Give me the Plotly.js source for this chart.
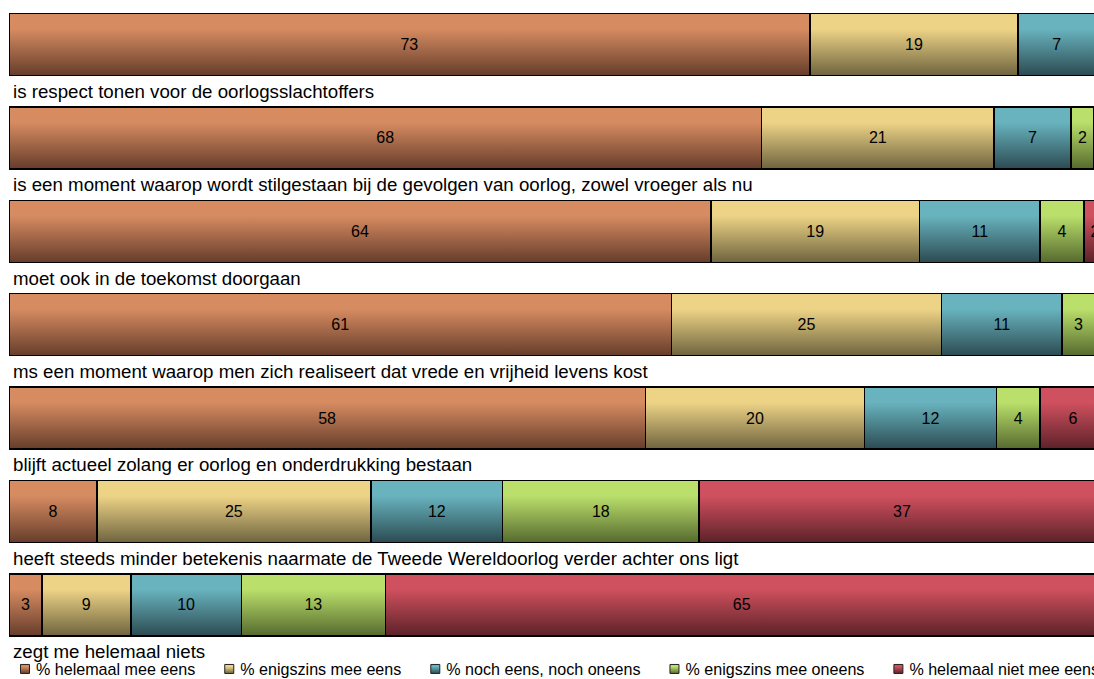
<!DOCTYPE html>
<html><head><meta charset="utf-8">
<script src="https://cdn.plot.ly/plotly-3.0.1.min.js"></script>
<style>
html,body{margin:0;padding:0;overflow:hidden;background:#fff;width:1094px;height:679px}
#chart{width:1220px;height:700px;margin-left:-20px}
</style>
</head><body><div id="chart"></div>
<script>
// Statements (one stacked bar each, top to bottom)
const statements = [
  "is respect tonen voor de oorlogsslachtoffers",
  "is een moment waarop wordt stilgestaan bij de gevolgen van oorlog, zowel vroeger als nu",
  "moet ook in de toekomst doorgaan",
  "ms een moment waarop men zich realiseert dat vrede en vrijheid levens kost",
  "blijft actueel zolang er oorlog en onderdrukking bestaan",
  "heeft steeds minder betekenis naarmate de Tweede Wereldoorlog verder achter ons ligt",
  "zegt me helemaal niets"
];
const seriesNames = [
  "% helemaal mee eens",
  "% enigszins mee eens",
  "% noch eens, noch oneens",
  "% enigszins mee oneens",
  "% helemaal niet mee eens"
];
// Values (percent)
const helemaalMeeEens     = [73.0, 68.6, 64.0, 60.4, 58.0,  8.0,  3.0];
const enigszinsMeeEens    = [19.0, 21.2, 19.0, 24.6, 20.0, 25.0,  8.1];
const nochEensNochOneens  = [ 7.0,  7.0, 11.0, 11.0, 12.0, 12.0, 10.1];
const enigszinsMeeOneens  = [ 1.0,  2.1,  4.0,  3.0,  4.0, 17.9, 13.1];
const helemaalNietMeeEens = [ 0.0,  1.1,  2.0,  1.0,  6.0, 37.0, 65.0];
// Printed labels inside the segments (segments past the right edge show none)
const lblHelemaalMeeEens     = ["73","68","64","61","58","8","3"];
const lblEnigszinsMeeEens    = ["19","21","19","25","20","25","9"];
const lblNochEensNochOneens  = ["7","7","11","11","12","12","10"];
const lblEnigszinsMeeOneens  = ["","2","4","3","4","18","13"];
const lblHelemaalNietMeeEens = ["","","2","","6","37","65"];

const seriesValues = [helemaalMeeEens, enigszinsMeeEens, nochEensNochOneens, enigszinsMeeOneens, helemaalNietMeeEens];
const seriesLabels = [lblHelemaalMeeEens, lblEnigszinsMeeEens, lblNochEensNochOneens, lblEnigszinsMeeOneens, lblHelemaalNietMeeEens];

const baseColors = ["#B6714C", "#C9B26A", "#4E8C96", "#97B552", "#A83E49"];
const gradColors = [
  ["#D68B61", "#663D2B"],
  ["#EDD386", "#6F643F"],
  ["#68B3BE", "#2C4B52"],
  ["#BADF6B", "#566A2E"],
  ["#CF505E", "#5C2229"]
];

const FONT = "Liberation Sans, Arial, sans-serif";
const rows = statements.map((s, i) => i);

const traces = seriesNames.map((name, k) => ({
  type: "bar",
  orientation: "h",
  name: name,
  x: seriesValues[k],
  y: rows,
  width: 0.663,
  text: seriesLabels[k],
  textposition: "inside",
  insidetextanchor: "middle",
  constraintext: "none",
  textangle: 0,
  textfont: {family: FONT, size: 16, color: "#000"},
  marker: {color: baseColors[k], line: {color: "#000", width: 1.5}},
  hoverinfo: "skip"
}));

const annotations = statements.map((s, i) => ({
  text: s,
  xref: "paper", x: 0, xanchor: "left", xshift: 2,
  yref: "y", y: i + 0.5, yanchor: "middle",
  showarrow: false,
  font: {family: FONT, size: 18.7, color: "#000"}
}));

// figure is shifted 20px left by CSS; plot area starts at viewport x=9
const FIG_W = 1220, FIG_H = 700;
const ML = 29, MR = 9, MB = 48;
const plotW = FIG_W - ML - MR;
const xMax = 100 * plotW / 1097;       // 100% ends 1097px right of the bar start
const plotH = FIG_H - MB;
const rowPx = 93.4;
const yTop = -44.5 / rowPx;
const yBottom = yTop + plotH / rowPx;

const layout = {
  width: FIG_W, height: FIG_H,
  margin: {l: ML, r: MR, t: 0, b: MB},
  paper_bgcolor: "#fff", plot_bgcolor: "#fff",
  barmode: "stack",
  font: {family: FONT, color: "#000"},
  xaxis: {range: [0, xMax], visible: false, fixedrange: true},
  yaxis: {range: [yBottom, yTop], visible: false, fixedrange: true},
  showlegend: true,
  legend: {
    orientation: "h",
    xref: "paper", yref: "paper",
    x: -13 / plotW, xanchor: "left",
    y: 0, yanchor: "top",
    bgcolor: "rgba(0,0,0,0)",
    font: {family: FONT, size: 16.1, color: "#000"},
    traceorder: "normal"
  },
  annotations: annotations
};

Plotly.newPlot("chart", traces, layout, {staticPlot: true, displayModeBar: false}).then(gd => {
  const NS = "http://www.w3.org/2000/svg";
  const svg = gd.querySelector(".main-svg");
  let defs = svg.querySelector("defs");
  if (!defs) { defs = document.createElementNS(NS, "defs"); svg.insertBefore(defs, svg.firstChild); }
  gradColors.forEach((c, i) => {
    const lg = document.createElementNS(NS, "linearGradient");
    lg.setAttribute("id", "grad" + i);
    lg.setAttribute("x1", "0"); lg.setAttribute("y1", "0");
    lg.setAttribute("x2", "0"); lg.setAttribute("y2", "1");
    [[0, c[0]], [0.25, c[0]], [1, c[1]]].forEach(([o, col]) => {
      const st = document.createElementNS(NS, "stop");
      st.setAttribute("offset", o);
      st.setAttribute("stop-color", col);
      lg.appendChild(st);
    });
    defs.appendChild(lg);
  });
  gd.querySelectorAll(".barlayer .trace").forEach((g, n) => {
    let idx = n;
    try { idx = g.__data__[0].trace.index; } catch (e) {}
    g.querySelectorAll("path").forEach(p => { p.style.fill = "url(#grad" + idx + ")"; });
  });
  gd.querySelectorAll(".legend .traces").forEach((g, n) => {
    let idx = n;
    try { idx = g.__data__[0].trace.index; } catch (e) {}
    const lp = g.querySelector(".legendpoints");
    if (lp) lp.setAttribute("transform", "translate(9,0)");
    g.querySelectorAll(".legendpoints path").forEach(p => {
      p.setAttribute("d", "M4.5,4.5H-4.5V-4.5H4.5Z");
      p.style.fill = "url(#grad" + idx + ")";
      p.style.strokeWidth = "1px";
      p.style.stroke = "#222";
    });
  });
});
</script>
</body></html>
